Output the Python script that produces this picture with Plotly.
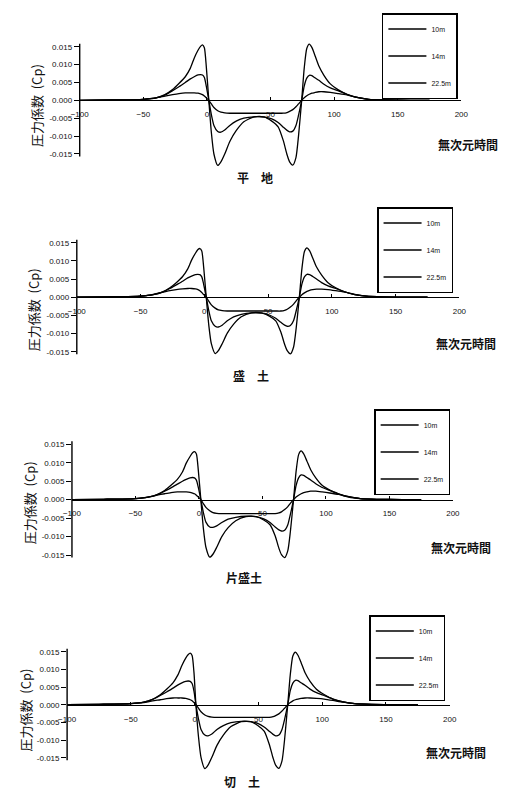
import plotly.graph_objects as go

# ---------------- data ----------------
SERIES = ["10m", "14m", "22.5m"]
PANEL_TITLES = ["平　地", "盛　土", "片盛土", "切　土"]
X_TITLE = "無次元時間"
Y_TITLE = "圧力係数  (Cp)"
X_TICKS = [-100, -50, 0, 50, 100, 150, 200]
Y_TICKS = [0.015, 0.010, 0.005, 0.0, -0.005, -0.010, -0.015]
Y_TICK_TEXT = ["0.015", "0.010", "0.005", "0.000", "-0.005", "-0.010", "-0.015"]

X = [-100, -75, -50, -40, -33, -27, -22, -17, -13, -10, -7, -5, -3.5, -2, -0.5,
     1.5, 3.5, 5.5, 8.5, 11, 14, 18, 23, 29, 37, 45, 51, 56, 60, 63, 65, 67.5, 70, 72,
     74.5, 76.5, 78.5, 80.5, 82.5, 85, 88, 92, 97, 103, 110, 118, 127, 140, 160, 175]
X4 = [-100, -75, -50, -40, -33, -27, -22, -17, -13, -10, -7, -5, -3.5, -2, -0.5,
      1, 3, 5, 8, 10.5, 13.5, 17.5, 22.5, 28.5, 36.5, 44, 49.5, 54.5, 58.5, 61.5, 63.5, 66, 68.5, 70.5,
      73, 75, 77, 79, 81, 83.5, 86.5, 90.5, 95.5, 101.5, 108.5, 116.5, 125.5, 138.5, 158.5, 175]

p1_10 = [0, 0.0001, 0.0003, 0.0007, 0.0016, 0.0030, 0.0047, 0.0066, 0.0090, 0.0118, 0.0140, 0.0151, 0.0155, 0.0147, 0.0095,
         0, -0.0090, -0.0150, -0.0182, -0.0172, -0.0150, -0.0115, -0.0085, -0.0060, -0.0046, -0.0046, -0.0058, -0.0074, -0.0112, -0.0152, -0.0172, -0.0181, -0.0160, -0.0100,
         0, 0.0090, 0.0145, 0.0157, 0.0148, 0.0125, 0.0096, 0.0070, 0.0046, 0.0030, 0.0017, 0.0008, 0.0003, 0.0001, 0, 0]
p1_14 = [0, 0.0001, 0.0003, 0.0007, 0.0015, 0.0027, 0.0038, 0.0050, 0.0060, 0.0066, 0.0071, 0.0072, 0.0071, 0.0064, 0.0040,
         0, -0.0040, -0.0070, -0.0087, -0.0089, -0.0083, -0.0070, -0.0058, -0.0050, -0.0046, -0.0047, -0.0052, -0.0062, -0.0075, -0.0084, -0.0088, -0.0086, -0.0070, -0.0042,
         0, 0.0040, 0.0062, 0.0070, 0.0069, 0.0063, 0.0056, 0.0045, 0.0035, 0.0027, 0.0017, 0.0008, 0.0003, 0.0001, 0, 0]
p1_22 = [0, 0.0001, 0.0003, 0.0007, 0.0012, 0.0016, 0.0019, 0.0021, 0.0021, 0.0021, 0.0020, 0.0018, 0.0016, 0.0012, 0.0007,
         0, -0.0010, -0.0020, -0.0029, -0.0033, -0.0035, -0.0036, -0.0036, -0.0036, -0.0036, -0.0036, -0.0036, -0.0036, -0.0036, -0.0034, -0.0031, -0.0026, -0.0018, -0.0010,
         0, 0.0007, 0.0013, 0.0017, 0.0020, 0.0022, 0.0024, 0.0024, 0.0022, 0.0019, 0.0015, 0.0008, 0.0003, 0.0001, 0, 0]

p2_10 = [0, 0.0001, 0.0003, 0.0007, 0.0014, 0.0026, 0.0040, 0.0057, 0.0078, 0.0102, 0.0121, 0.0131, 0.0134, 0.0127, 0.0082,
         0, -0.0077, -0.0128, -0.0155, -0.0147, -0.0128, -0.0099, -0.0074, -0.0054, -0.0043, -0.0043, -0.0052, -0.0065, -0.0096, -0.0130, -0.0147, -0.0156, -0.0137, -0.0086,
         0, 0.0078, 0.0126, 0.0136, 0.0128, 0.0108, 0.0083, 0.0061, 0.0040, 0.0026, 0.0015, 0.0007, 0.0003, 0.0001, 0, 0]
p2_14 = [0, 0.0001, 0.0003, 0.0007, 0.0014, 0.0024, 0.0034, 0.0044, 0.0053, 0.0058, 0.0062, 0.0063, 0.0062, 0.0056, 0.0035,
         0, -0.0037, -0.0065, -0.0080, -0.0082, -0.0077, -0.0065, -0.0054, -0.0047, -0.0043, -0.0044, -0.0049, -0.0058, -0.0069, -0.0077, -0.0080, -0.0078, -0.0064, -0.0038,
         0, 0.0036, 0.0056, 0.0063, 0.0062, 0.0057, 0.0050, 0.0040, 0.0031, 0.0024, 0.0015, 0.0007, 0.0003, 0.0001, 0, 0]
p2_22 = [0, 0.0001, 0.0003, 0.0008, 0.0013, 0.0018, 0.0021, 0.0023, 0.0024, 0.0024, 0.0023, 0.0021, 0.0018, 0.0013, 0.0007,
         0, -0.0011, -0.0021, -0.0030, -0.0035, -0.0037, -0.0038, -0.0038, -0.0038, -0.0038, -0.0038, -0.0038, -0.0038, -0.0038, -0.0036, -0.0033, -0.0027, -0.0019, -0.0010,
         0, 0.0007, 0.0012, 0.0016, 0.0019, 0.0021, 0.0022, 0.0022, 0.0021, 0.0018, 0.0014, 0.0008, 0.0003, 0.0001, 0, 0]

p3_10 = [0, 0.0001, 0.0003, 0.0007, 0.0014, 0.0025, 0.0039, 0.0055, 0.0075, 0.0099, 0.0117, 0.0127, 0.0130, 0.0124, 0.0080,
         0, -0.0078, -0.0129, -0.0156, -0.0148, -0.0129, -0.0100, -0.0076, -0.0057, -0.0046, -0.0046, -0.0055, -0.0068, -0.0098, -0.0132, -0.0149, -0.0157, -0.0138, -0.0087,
         0, 0.0076, 0.0122, 0.0132, 0.0124, 0.0105, 0.0081, 0.0059, 0.0039, 0.0026, 0.0015, 0.0007, 0.0003, 0.0001, 0, 0]
p3_14 = [0, 0.0001, 0.0003, 0.0007, 0.0013, 0.0023, 0.0032, 0.0042, 0.0050, 0.0055, 0.0059, 0.0060, 0.0059, 0.0053, 0.0033,
         0, -0.0035, -0.0061, -0.0074, -0.0075, -0.0071, -0.0062, -0.0053, -0.0048, -0.0045, -0.0046, -0.0052, -0.0062, -0.0074, -0.0082, -0.0085, -0.0083, -0.0068, -0.0040,
         0, 0.0038, 0.0059, 0.0067, 0.0066, 0.0060, 0.0053, 0.0043, 0.0033, 0.0025, 0.0016, 0.0008, 0.0003, 0.0001, 0, 0]
p3_22 = [0, 0.0001, 0.0003, 0.0007, 0.0012, 0.0016, 0.0019, 0.0021, 0.0021, 0.0021, 0.0020, 0.0018, 0.0016, 0.0012, 0.0007,
         0, -0.0011, -0.0021, -0.0030, -0.0035, -0.0037, -0.0038, -0.0038, -0.0038, -0.0038, -0.0038, -0.0038, -0.0038, -0.0038, -0.0036, -0.0033, -0.0027, -0.0019, -0.0010,
         0, 0.0007, 0.0012, 0.0016, 0.0019, 0.0021, 0.0023, 0.0023, 0.0021, 0.0018, 0.0014, 0.0008, 0.0003, 0.0001, 0, 0]

p4_10 = [0, 0.0001, 0.0003, 0.0007, 0.0015, 0.0028, 0.0044, 0.0062, 0.0085, 0.0111, 0.0132, 0.0142, 0.0146, 0.0139, 0.0090,
         0, -0.0090, -0.0149, -0.0181, -0.0171, -0.0149, -0.0115, -0.0086, -0.0062, -0.0048, -0.0048, -0.0059, -0.0075, -0.0112, -0.0151, -0.0171, -0.0180, -0.0159, -0.0100,
         0, 0.0085, 0.0138, 0.0149, 0.0140, 0.0119, 0.0091, 0.0066, 0.0044, 0.0029, 0.0016, 0.0008, 0.0003, 0.0001, 0, 0]
p4_14 = [0, 0.0001, 0.0003, 0.0007, 0.0015, 0.0026, 0.0036, 0.0047, 0.0056, 0.0062, 0.0066, 0.0067, 0.0066, 0.0060, 0.0038,
         0, -0.0040, -0.0070, -0.0086, -0.0088, -0.0083, -0.0070, -0.0059, -0.0051, -0.0047, -0.0048, -0.0053, -0.0063, -0.0075, -0.0084, -0.0088, -0.0086, -0.0070, -0.0042,
         0, 0.0040, 0.0061, 0.0069, 0.0068, 0.0062, 0.0055, 0.0044, 0.0034, 0.0026, 0.0016, 0.0008, 0.0003, 0.0001, 0, 0]
p4_22 = [0, 0.0001, 0.0003, 0.0006, 0.0011, 0.0014, 0.0017, 0.0019, 0.0019, 0.0019, 0.0018, 0.0016, 0.0014, 0.0011, 0.0006,
         0, -0.0010, -0.0020, -0.0029, -0.0033, -0.0035, -0.0036, -0.0036, -0.0036, -0.0036, -0.0036, -0.0036, -0.0036, -0.0036, -0.0034, -0.0031, -0.0026, -0.0018, -0.0010,
         0, 0.0006, 0.0011, 0.0014, 0.0016, 0.0018, 0.0019, 0.0019, 0.0018, 0.0016, 0.0012, 0.0007, 0.0003, 0.0001, 0, 0]

# ---------------- layout (pixel geometry) ----------------
W, H = 509, 790
Y_LO, Y_HI = -0.021, 0.017
NUM_FONT = "Liberation Sans, DejaVu Sans, sans-serif"
CJK_FONT = "Noto Sans CJK JP, Noto Sans CJK SC, sans-serif"

panels = [
    dict(xs=X,  ys=[p1_10, p1_14, p1_22], xpx=(73, 467), ypx=(46.7, 154.0),
         leg=(383, 13), xt=(474, 145), yt=(28, 106), pt=(254, 178)),
    dict(xs=X,  ys=[p2_10, p2_14, p2_22], xpx=(70, 465), ypx=(242.7, 351.7),
         leg=(378, 207), xt=(472, 343), yt=(25, 310), pt=(250, 375)),
    dict(xs=X,  ys=[p3_10, p3_14, p3_22], xpx=(65, 458.3), ypx=(444.3, 555.0),
         leg=(375, 409), xt=(467, 547), yt=(22, 503), pt=(243, 577)),
    dict(xs=X4, ys=[p4_10, p4_14, p4_22], xpx=(60, 455), ypx=(651.7, 757.7),
         leg=(370, 615), xt=(462, 752), yt=(17, 710), pt=(241, 781)),
]

fig = go.Figure()
layout = dict(width=W, height=H, margin=dict(l=0, r=0, t=0, b=0),
              paper_bgcolor="white", plot_bgcolor="white", showlegend=True,
              font=dict(family=NUM_FONT, size=8, color="#111"))
annotations = []
shapes = []

for i, p in enumerate(panels):
    n = "" if i == 0 else str(i + 1)
    xa, ya = "xaxis" + n, "yaxis" + n
    xr, yr = "x" + n, "y" + n
    lg = "legend" + n
    s = (p["ypx"][1] - p["ypx"][0]) / 0.030
    y0 = (p["ypx"][0] + p["ypx"][1]) / 2
    top = y0 - Y_HI * s
    bot = y0 - Y_LO * s
    for k, name in enumerate(SERIES):
        fig.add_trace(go.Scatter(
            x=p["xs"], y=p["ys"][k], mode="lines", name=name,
            line=dict(color="black", width=1.3, shape="spline", smoothing=0.6),
            xaxis=xr, yaxis=yr, legend=lg, legendgroup=f"p{i}_{k}",
            hoverinfo="skip"))
    layout[xa] = dict(domain=[p["xpx"][0] / W, p["xpx"][1] / W], range=[-100, 200],
                      anchor="free", position=1 - y0 / H,
                      showline=True, linecolor="black", linewidth=1.4,
                      showgrid=False, zeroline=False,
                      tickmode="array", tickvals=X_TICKS, ticks="inside", ticklen=3,
                      tickcolor="black", ticklabelstandoff=6,
                      tickfont=dict(family=NUM_FONT, size=8, color="#111"))
    layout[ya] = dict(domain=[1 - bot / H, 1 - top / H], range=[Y_LO, Y_HI],
                      anchor=xr, showline=False, showgrid=False, zeroline=False,
                      tickmode="array", tickvals=Y_TICKS, ticktext=Y_TICK_TEXT,
                      ticks="outside", ticklen=5, tickcolor="black", tickwidth=1.2,
                      tickfont=dict(family=NUM_FONT, size=8, color="#111"))
    shapes.append(dict(type="line", xref=xr + " domain", yref=yr, x0=0, x1=0,
                       y0=-0.0157, y1=0.0158, line=dict(color="black", width=1.4)))
    layout[lg] = dict(x=(p["leg"][0] + 2) / W, y=1 - p["leg"][1] / H, xanchor="left", yanchor="top",
                      bgcolor="white", bordercolor="black", borderwidth=1.5,
                      font=dict(family=NUM_FONT, size=7, color="#111"),
                      traceorder="grouped", tracegroupgap=8, itemwidth=38)
    annotations += [
        dict(text=X_TITLE, x=p["xt"][0] / W, y=1 - p["xt"][1] / H, xref="paper", yref="paper",
             showarrow=False, xanchor="center", yanchor="middle",
             font=dict(family=CJK_FONT, size=12, color="#111", weight="bold")),
        dict(text=Y_TITLE, x=p["yt"][0] / W, y=1 - p["yt"][1] / H, xref="paper", yref="paper",
             showarrow=False, xanchor="center", yanchor="middle", textangle=-90,
             font=dict(family=CJK_FONT, size=13, color="#111")),
        dict(text=PANEL_TITLES[i], x=p["pt"][0] / W, y=1 - p["pt"][1] / H, xref="paper", yref="paper",
             showarrow=False, xanchor="center", yanchor="middle",
             font=dict(family=CJK_FONT, size=12, color="#111", weight="bold")),
    ]

layout["annotations"] = annotations
layout["shapes"] = shapes
fig.update_layout(**layout)
fig.write_html("out.html", config={"displayModeBar": False},
               post_script="document.body.style.margin='0';document.body.style.padding='0';")
